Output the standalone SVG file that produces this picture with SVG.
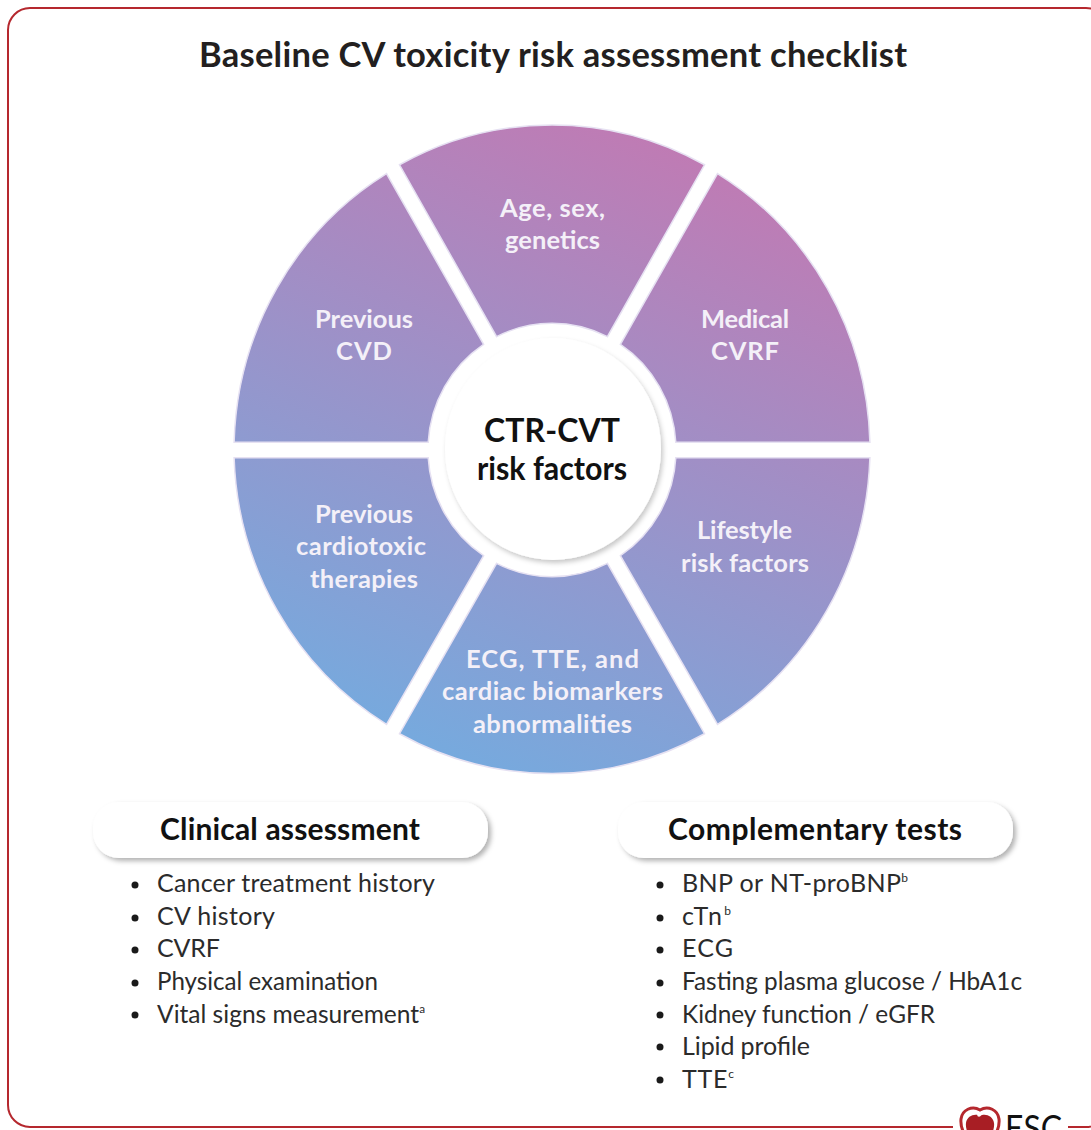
<svg xmlns="http://www.w3.org/2000/svg" width="1091" height="1130" viewBox="0 0 1091 1130">
<style>
text{font-family:Lato,"Liberation Sans",sans-serif}
.title{font-size:34.5px;font-weight:700;fill:#231f20;text-anchor:middle}
.seg{fill:url(#g);stroke:#e6e1f2;stroke-width:1.5}
.sl{font-size:25.5px;font-weight:700;fill:#f4f0f8;text-anchor:middle}
.hub{font-size:32px;font-weight:700;fill:#111;text-anchor:middle}
.box{fill:#fff;filter:url(#sh)}
.bh{font-size:30px;font-weight:700;fill:#111;text-anchor:middle}
.li{font-size:25px;fill:#2b2b2b}
.sup{font-size:12px}
.b{fill:#1a1a1a}
</style>
<defs>
<linearGradient id="g" gradientUnits="userSpaceOnUse" x1="150" y1="-300" x2="-110" y2="320">
<stop offset="0" stop-color="#c17ab3"/><stop offset="1" stop-color="#74abdf"/>
</linearGradient>
<filter id="sh" x="-10%" y="-20%" width="125%" height="150%"><feDropShadow dx="3" dy="3" stdDeviation="2.5" flood-color="#000" flood-opacity=".3"/></filter>
<filter id="sc" x="-10%" y="-10%" width="120%" height="120%"><feDropShadow dx="2" dy="3" stdDeviation="2.5" flood-color="#000" flood-opacity=".22"/></filter>
</defs>
<rect id="frame" x="8" y="8" width="1100" height="1119" rx="22" fill="none" stroke="#b5282e" stroke-width="2"/>
<rect x="953" y="1118" width="115" height="12" fill="#fff"/>
<text id="title" class="title" x="553" y="67" textLength="708" lengthAdjust="spacing">Baseline CV toxicity risk assessment checklist</text>
<g id="wheel" transform="translate(552 450) scale(1 1.022)">
<g id="seg-age"><path class="seg" d="M152.500-279.100A318 318 0 0 0-152.500-279.100L-55.400-110.900A124 124 0 0 1 55.400-110.900Z"/></g>
<g id="seg-medical"><path class="seg" d="M317.900-7.500A318 318 0 0 0 165.500-270.500L68.400-103.400A124 124 0 0 1 123.800-7.500Z"/></g>
<g id="seg-lifestyle"><path class="seg" d="M317.900 7.500A318 318 0 0 1 165.500 268.500L68.400 103.400A124 124 0 0 0 123.800 7.500Z"/></g>
<g id="seg-ecg"><path class="seg" d="M152.500 277.600A318 318 0 0 1-152.500 277.600L-55.400 110.900A124 124 0 0 0 55.400 110.900Z"/></g>
<g id="seg-therapies"><path class="seg" d="M-317.900 7.500A318 318 0 0 0-165.500 268.500L-68.400 103.400A124 124 0 0 1-123.800 7.500Z"/></g>
<g id="seg-cvd"><path class="seg" d="M-317.900-7.500A318 318 0 0 1-165.500-270.500L-68.400-103.400A124 124 0 0 0-123.800-7.500Z"/></g>
</g>
<g id="labels">
<text class="sl" x="552.500" y="217" textLength="105">Age, sex,</text><text class="sl" x="552.500" y="249" textLength="95">genetics</text>
<text class="sl" x="745" y="328" textLength="88">Medical</text><text class="sl" x="745" y="360" textLength="68">CVRF</text>
<text class="sl" x="744.500" y="539" textLength="95">Lifestyle</text><text class="sl" x="745" y="572" textLength="128">risk factors</text>
<text class="sl" x="552.500" y="668" textLength="173">ECG, TTE, and</text><text class="sl" x="552.500" y="700" textLength="221">cardiac biomarkers</text><text class="sl" x="552.500" y="733" textLength="159">abnormalities</text>
<text class="sl" x="364" y="523" textLength="98">Previous</text><text class="sl" x="361" y="555" textLength="130">cardiotoxic</text><text class="sl" x="364" y="588" textLength="108">therapies</text>
<text class="sl" x="364" y="328" textLength="98">Previous</text><text class="sl" x="364" y="360" textLength="56">CVD</text>
</g>
<g id="hub">
<ellipse cx="553" cy="449" rx="108" ry="111" fill="#fff" filter="url(#sc)"/>
<text class="hub" x="552" y="442" textLength="136">CTR-CVT</text><text class="hub" x="552" y="480" textLength="150" lengthAdjust="spacingAndGlyphs">risk factors</text>
</g>
<g id="clinical">
<rect class="box" x="93" y="802" width="395" height="56" rx="26"/>
<text class="bh" x="290" y="840" textLength="260">Clinical assessment</text>
<circle class="b" cx="135" cy="885" r="3.5"/><text class="li" x="157" y="892" textLength="278">Cancer treatment history</text>
<circle class="b" cx="135" cy="918" r="3.5"/><text class="li" x="157" y="925" textLength="118">CV history</text>
<circle class="b" cx="135" cy="950" r="3.5"/><text class="li" x="157" y="957" textLength="63">CVRF</text>
<circle class="b" cx="135" cy="983" r="3.5"/><text class="li" x="157" y="990" textLength="221" lengthAdjust="spacingAndGlyphs">Physical examination</text>
<circle class="b" cx="135" cy="1015" r="3.5"/><text class="li" x="157" y="1023" textLength="268" lengthAdjust="spacingAndGlyphs">Vital signs measurement<tspan class="sup" dy="-10">a</tspan></text>
</g>
<g id="tests">
<rect class="box" x="618" y="802" width="395" height="56" rx="26"/>
<text class="bh" x="815" y="840" textLength="294">Complementary tests</text>
<circle class="b" cx="660" cy="885" r="3.5"/><text class="li" x="682" y="892" textLength="226">BNP or NT-proBNP<tspan class="sup" dy="-10">b</tspan></text>
<circle class="b" cx="660" cy="918" r="3.5"/><text class="li" x="682" y="925" textLength="49">cTn<tspan class="sup" dy="-10">b</tspan></text>
<circle class="b" cx="660" cy="950" r="3.5"/><text class="li" x="682" y="957" textLength="51">ECG</text>
<circle class="b" cx="660" cy="983" r="3.5"/><text class="li" x="682" y="990" textLength="340" lengthAdjust="spacingAndGlyphs">Fasting plasma glucose / HbA1c</text>
<circle class="b" cx="660" cy="1015" r="3.5"/><text class="li" x="682" y="1023" textLength="253" lengthAdjust="spacingAndGlyphs">Kidney function / eGFR</text>
<circle class="b" cx="660" cy="1047" r="3.5"/><text class="li" x="682" y="1055" textLength="128">Lipid profile</text>
<circle class="b" cx="660" cy="1080" r="3.5"/><text class="li" x="682" y="1088" textLength="52">TTE<tspan class="sup" dy="-10">c</tspan></text>
</g>
<g id="esc-logo">
<path d="M980 1152C966 1140 960 1128 961 1119C962 1110 972 1105 980 1110C988 1105 998 1110 999 1119C1000 1128 994 1140 980 1152Z" fill="none" stroke="#b5282e" stroke-width="3"/>
<path d="M980 1150C970 1140 965 1130 966 1123C967 1115 976 1113 980 1116C984 1113 993 1115 994 1123C995 1130 990 1140 980 1150Z" fill="#a81e24"/>
<circle cx="979" cy="1115" r="1.8" fill="#fff"/>
<text x="1005" y="1141" font-size="36" fill="#111" textLength="57" lengthAdjust="spacingAndGlyphs">ESC</text>
</g>
</svg>
